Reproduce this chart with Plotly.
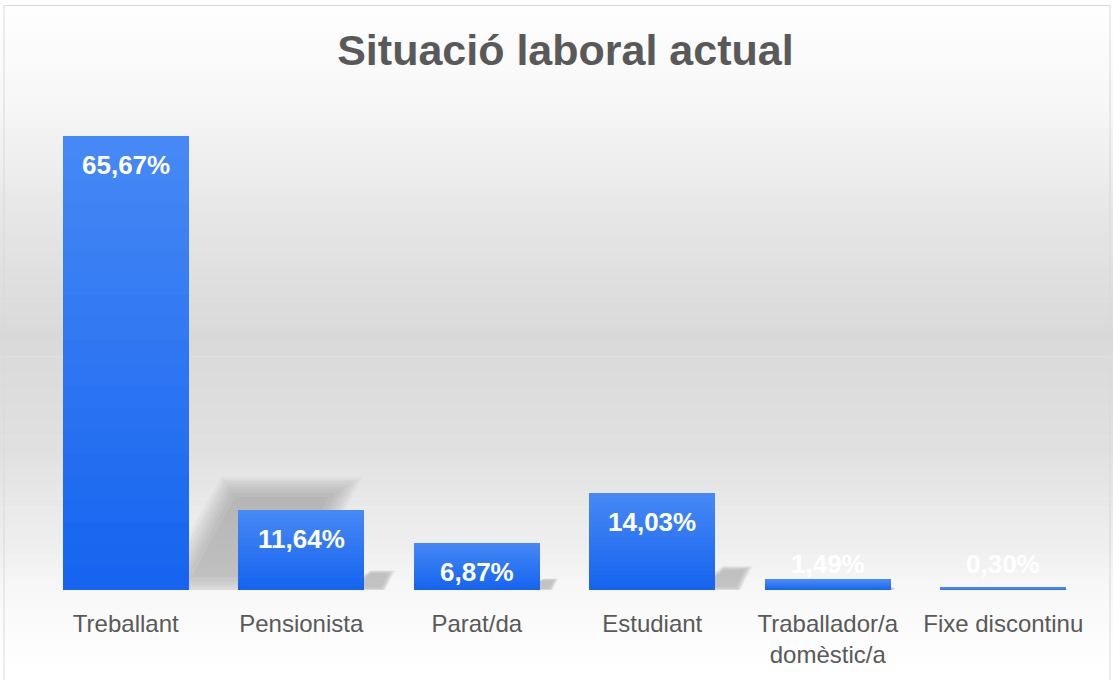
import plotly.graph_objects as go

# data
categories = ["Treballant", "Pensionista", "Parat/da", "Estudiant",
              "Traballador/a<br>domèstic/a", "Fixe discontinu"]
values = [65.67, 11.64, 6.87, 14.03, 1.49, 0.30]

W, H = 1113, 680
M_T, M_B, M_L, M_R = 106, 83, 38, 22
plot_w = W - M_L - M_R
plot_h = H - M_T - M_B
Y_MAX = 70
BARGAP = 0.282


def py_to_paper(py):
    # pixel row (from top of page) -> paper y
    return (H - M_B - py) / plot_h


def px_to_paper(px):
    return (px - M_L) / plot_w


def mix(c1, c2, t):
    return "rgb(%d,%d,%d)" % tuple(round(a + (b - a) * t) for a, b in zip(c1, c2))


fig = go.Figure()

# bars: stacked slices to fake the vertical gradient (dark bottom, light top)
n_seg = 20
bottom_rgb = (22, 100, 239)
top_rgb = (70, 136, 245)
for k in range(n_seg):
    fig.add_trace(go.Bar(
        x=categories,
        y=[v / n_seg for v in values],
        marker=dict(color=mix(bottom_rgb, top_rgb, k / (n_seg - 1)), line=dict(width=0)),
        showlegend=False,
        hoverinfo="skip",
    ))

# data labels
for cat, v in zip(categories, values):
    label = f"{v:.2f}".replace(".", ",") + "%"
    fits = v > 4
    fig.add_annotation(
        x=cat, y=v if fits else 0,
        yshift=-29 if fits else 26,
        text=f"<b>{label}</b>",
        showarrow=False,
        font=dict(size=26, color="white", family="Liberation Sans, Arial"),
    )

# background: white -> gray -> white vertical gradient
stops = [(0, (255, 255, 255)), (100, (247, 247, 247)), (220, (230, 230, 230)),
         (340, (217, 217, 217)), (450, (224, 224, 224)), (560, (240, 240, 240)),
         (600, (248, 248, 248)), (680, (255, 255, 255))]
step = 8
for py in range(0, H, step):
    mid = py + step / 2
    for (a, ca), (b, cb) in zip(stops[:-1], stops[1:]):
        if a <= mid <= b:
            col = mix(ca, cb, (mid - a) / (b - a))
            break
    fig.add_shape(type="rect", xref="paper", yref="paper",
                  x0=px_to_paper(0), x1=px_to_paper(W),
                  y0=py_to_paper(py + step + 0.5), y1=py_to_paper(py),
                  fillcolor=col, line=dict(width=0), layer="below")

# soft perspective shadows behind the bars (stacked faint layers = blur)
slot = plot_w / len(categories)
base = H - M_B
for i, v in enumerate(values):
    h = v / Y_MAX * plot_h
    xr = M_L + (i + 0.5) * slot + slot * (1 - BARGAP) / 2
    pts = [(xr - 20, base), (xr + 0.082 * h, base - 0.233 * h),
           (xr + 0.35 * h, base - 0.233 * h), (xr + 0.24 * h, base)]
    cx = sum(p[0] for p in pts) / 4
    cy = sum(p[1] for p in pts) / 4
    for s in (1.14, 1.09, 1.05, 1.0, 0.95, 0.9, 0.84, 0.76):
        q = [(cx + (x - cx) * s, min(base, cy + (y - cy) * s)) for x, y in pts]
        path = "M " + " L ".join(f"{px_to_paper(x):.5f},{py_to_paper(y):.5f}" for x, y in q) + " Z"
        fig.add_shape(type="path", xref="paper", yref="paper", path=path,
                      fillcolor="rgba(0,0,0,0.028)", line=dict(width=0), layer="below")

# frame
fig.add_shape(type="rect", xref="paper", yref="paper",
              x0=px_to_paper(4), x1=px_to_paper(1110),
              y0=py_to_paper(700), y1=py_to_paper(4),
              line=dict(color="#d9d9d9", width=1), fillcolor="rgba(0,0,0,0)",
              layer="above")

fig.update_layout(
    width=W, height=H,
    margin=dict(t=M_T, b=M_B, l=M_L, r=M_R),
    barmode="stack",
    bargap=BARGAP,
    title=dict(
        text="<b>Situació laboral actual</b>",
        x=0.508, xanchor="center",
        y=1 - 50 / H, yanchor="middle", yref="container",
        font=dict(size=43, color="#595959", family="Liberation Sans, Arial"),
    ),
    xaxis=dict(
        showgrid=False, zeroline=False, showline=False,
        ticks="outside", ticklen=12, tickcolor="rgba(0,0,0,0)",
        tickfont=dict(size=24, color="#595959", family="Liberation Sans, Arial"),
    ),
    yaxis=dict(
        range=[0, Y_MAX], showgrid=False, zeroline=False,
        showticklabels=False, showline=False,
    ),
    plot_bgcolor="rgba(0,0,0,0)",
    paper_bgcolor="white",
)

fig.write_html("out.html", config={"displayModeBar": False},
               post_script="document.body.style.margin='0';")
